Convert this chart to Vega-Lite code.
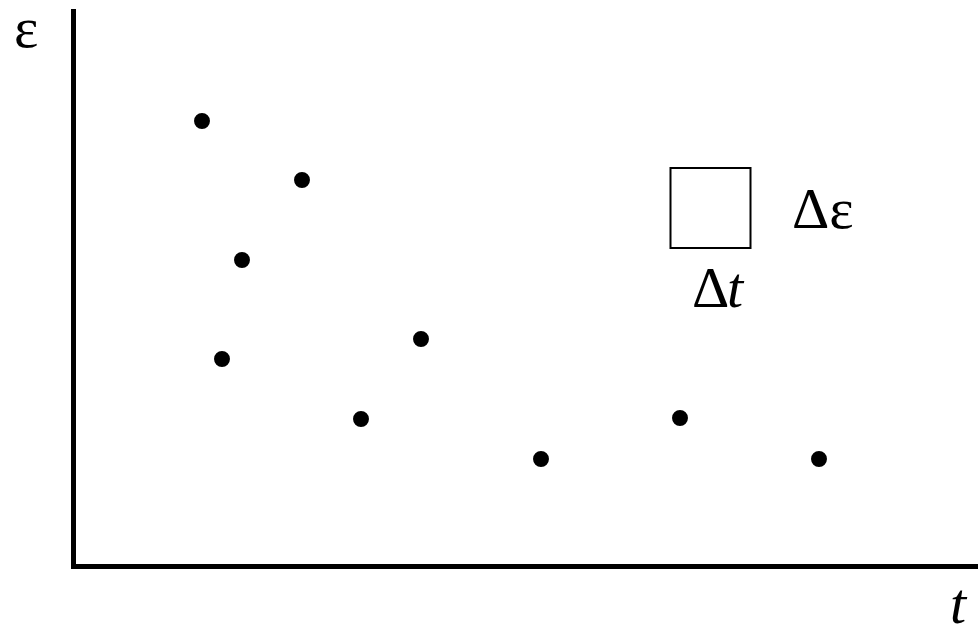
{
  "$schema": "https://vega.github.io/schema/vega-lite/v6.json",
  "width": 905,
  "height": 555,
  "autosize": "none",
  "padding": {"left": 73, "top": 11, "right": 0, "bottom": 63},
  "background": "white",
  "config": {"view": {"stroke": null}},
  "datasets": {
    "points": [
      {"t": 129, "e": 445},
      {"t": 229, "e": 386},
      {"t": 169, "e": 306},
      {"t": 149, "e": 207},
      {"t": 348, "e": 227},
      {"t": 288, "e": 147},
      {"t": 468, "e": 107},
      {"t": 607, "e": 148},
      {"t": 746, "e": 107}
    ],
    "box": [{"t0": 597.5, "t1": 677.5, "e0": 318, "e1": 398}],
    "labels": [
      {"label": "Δε", "t": 719, "e": 338, "kind": "upright"},
      {"label": "Δ", "t": 619, "e": 259, "kind": "upright"},
      {"label": "t", "t": 654, "e": 259, "kind": "italic"},
      {"label": "ε", "t": -59, "e": 519, "kind": "upright"},
      {"label": "t", "t": 877, "e": -57, "kind": "italic"}
    ]
  },
  "layer": [
    {
      "data": {"name": "points"},
      "mark": {"type": "circle", "size": 254, "color": "black", "opacity": 1},
      "encoding": {
        "x": {"field": "t", "type": "quantitative", "scale": {"domain": [0, 905], "nice": false, "zero": false},
              "axis": {"domain": true, "domainWidth": 5, "domainColor": "black", "domainCap": "square", "ticks": false, "labels": false, "grid": false, "title": null}},
        "y": {"field": "e", "type": "quantitative", "scale": {"domain": [0, 555], "nice": false, "zero": false},
              "axis": {"domain": true, "domainWidth": 5, "domainColor": "black", "domainCap": "square", "ticks": false, "labels": false, "grid": false, "title": null}}
      }
    },
    {
      "data": {"name": "box"},
      "mark": {"type": "rect", "filled": false, "stroke": "black", "strokeWidth": 2},
      "encoding": {
        "x": {"field": "t0", "type": "quantitative"},
        "x2": {"field": "t1"},
        "y": {"field": "e0", "type": "quantitative"},
        "y2": {"field": "e1"}
      }
    },
    {
      "data": {"name": "labels"},
      "transform": [{"filter": "datum.kind === 'upright'"}],
      "mark": {"type": "text", "font": "Liberation Serif", "fontSize": 58, "align": "left", "baseline": "alphabetic", "color": "black"},
      "encoding": {
        "x": {"field": "t", "type": "quantitative"},
        "y": {"field": "e", "type": "quantitative"},
        "text": {"field": "label"}
      }
    },
    {
      "data": {"name": "labels"},
      "transform": [{"filter": "datum.kind === 'italic'"}],
      "mark": {"type": "text", "font": "Liberation Serif", "fontSize": 58, "fontStyle": "italic", "align": "left", "baseline": "alphabetic", "color": "black"},
      "encoding": {
        "x": {"field": "t", "type": "quantitative"},
        "y": {"field": "e", "type": "quantitative"},
        "text": {"field": "label"}
      }
    }
  ]
}
